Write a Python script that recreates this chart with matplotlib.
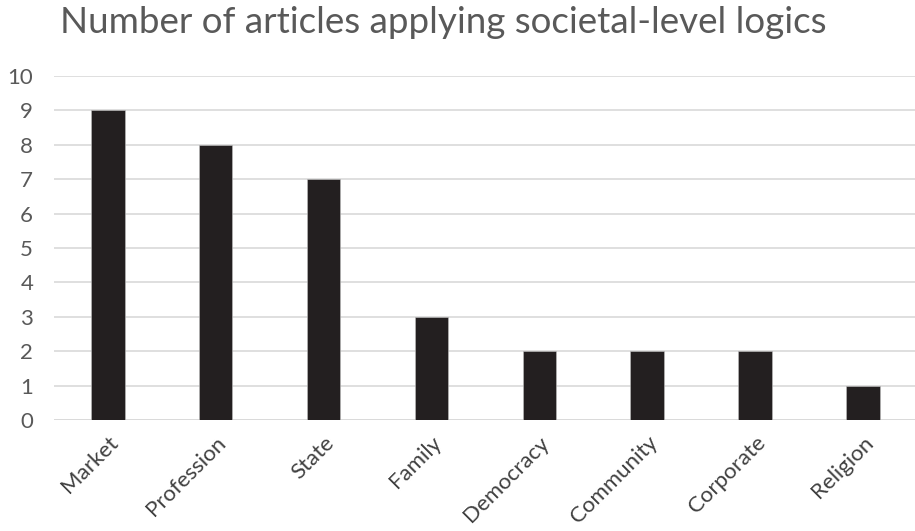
import matplotlib
matplotlib.use("Agg")
import matplotlib.pyplot as plt

categories = ["Market", "Profession", "State", "Family", "Democracy", "Community", "Corporate", "Religion"]
values = [9, 8, 7, 3, 2, 2, 2, 1]
yticks = list(range(0, 11))
title = "Number of articles applying societal-level logics"

plt.rcParams['font.family'] = ['Lato', 'DejaVu Sans']
gray = "#595959"

fig = plt.figure(figsize=(9.15, 5.31), dpi=100)
ax = fig.add_axes([0.059, 0.209, 0.943, 0.648])
x = list(range(len(categories)))
ax.bar(x, values, width=0.31, color="#231F20", edgecolor="#bfbfbf", linewidth=0.4, zorder=3)
ax.set_xlim(-0.5, len(categories) - 0.5)
ax.set_ylim(0, 10)
ax.set_yticks(yticks)
ax.set_yticklabels([str(v) for v in yticks], fontsize=16, color=gray)
ax.set_xticks(x)
ax.set_xticklabels(categories, rotation=45, ha="right", rotation_mode="anchor", fontsize=16, color="#404040")
ax.tick_params(axis="y", length=0, pad=15)
ax.tick_params(axis="x", length=0, pad=9)
ax.yaxis.grid(True, color="#d9d9d9", linewidth=1.2, zorder=0)
for s in ax.spines.values():
    s.set_visible(False)
ax.axhline(0, color="#d9d9d9", linewidth=1.2, zorder=2)
fig.text(0.484, 0.958, title, ha="center", va="center", fontsize=26.5, color=gray)
fig.savefig("out.png", dpi=100)
